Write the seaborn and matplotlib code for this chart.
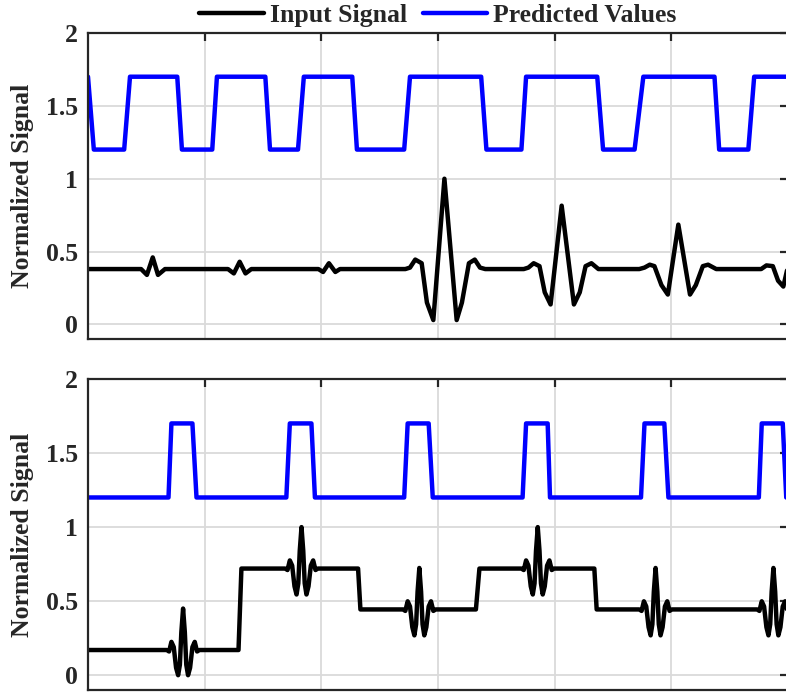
import numpy as np
import pandas as pd
import matplotlib
matplotlib.use("Agg")
import matplotlib.pyplot as plt
import seaborn as sns

# ---------------- data ----------------
# top panel
top_pred_x = [0, 1.0, 6.2, 7.2, 15.3, 16.1, 21.3, 22.1, 30.4, 31.2, 36.0, 37.0, 45.3, 46.1,
              54.2, 55.2, 67.4, 68.3, 74.3, 75.1, 87.3, 88.3, 93.7, 95.2, 107.4, 108.2,
              113.2, 114.2, 120.0]
top_pred_y = [1.7, 1.2, 1.2, 1.7, 1.7, 1.2, 1.2, 1.7, 1.7, 1.2, 1.2, 1.7, 1.7, 1.2,
              1.2, 1.7, 1.7, 1.2, 1.2, 1.7, 1.7, 1.2, 1.2, 1.7, 1.7, 1.2,
              1.2, 1.7, 1.7]

top_sig_x = [0, 9.1, 10.1, 11.1, 12.0, 13.2,
             24.0, 25.0, 26.0, 27.0, 28.0,
             39.5, 40.3, 41.3, 42.4, 43.2,
             54.4, 55.2, 56.1, 57.2, 58.1, 59.2, 61.1, 63.2, 64.1, 65.3, 66.3, 67.2, 68.1,
             74.7, 75.5, 76.4, 77.4, 78.3, 79.3, 81.2, 83.3, 84.3, 85.3, 86.3, 87.5,
             94.5, 95.4, 96.3, 97.1, 98.3, 99.4, 101.2, 103.2, 104.2, 105.4, 106.3, 107.7,
             115.4, 116.3, 117.4, 118.3, 119.2, 120.0]
top_sig_y = [0.38, 0.38, 0.34, 0.46, 0.34, 0.38,
             0.38, 0.35, 0.43, 0.35, 0.38,
             0.38, 0.36, 0.42, 0.36, 0.38,
             0.38, 0.39, 0.445, 0.42, 0.15, 0.03, 1.0, 0.03, 0.15, 0.42, 0.445, 0.39, 0.38,
             0.38, 0.39, 0.42, 0.40, 0.22, 0.137, 0.815, 0.137, 0.22, 0.40, 0.42, 0.38,
             0.38, 0.39, 0.41, 0.40, 0.27, 0.205, 0.685, 0.205, 0.27, 0.40, 0.41, 0.38,
             0.38, 0.405, 0.40, 0.30, 0.26, 0.40]

# bottom panel
bot_pred_x = [0, 13.8, 14.3, 17.9, 18.6, 34.0, 34.6, 38.3, 38.9, 54.2, 54.8, 58.4, 59.1,
              74.5, 75.1, 78.8, 79.2, 94.8, 95.4, 98.8, 99.5, 115.0, 115.5, 119.1, 119.7, 120.0]
bot_pred_y = [1.2, 1.2, 1.7, 1.7, 1.2, 1.2, 1.7, 1.7, 1.2, 1.2, 1.7, 1.7, 1.2,
              1.2, 1.7, 1.7, 1.2, 1.2, 1.7, 1.7, 1.2, 1.2, 1.7, 1.7, 1.2, 1.2]

bot_sig_x = [0,
             13.5, 13.9, 14.3, 14.7, 15.1, 15.45, 15.75, 16.0, 16.3, 16.6, 16.85, 17.15, 17.5, 17.9, 18.3, 18.7, 19.1,
             25.8, 26.3,
             33.8, 34.2, 34.6, 35.0, 35.4, 35.75, 36.05, 36.3, 36.6, 36.9, 37.15, 37.45, 37.8, 38.2, 38.6, 39.0, 39.4,
             46.3, 46.7,
             54.0, 54.4, 54.8, 55.2, 55.6, 55.95, 56.25, 56.5, 56.8, 57.1, 57.35, 57.65, 58.0, 58.4, 58.8, 59.2, 59.6,
             66.5, 67.1,
             74.3, 74.7, 75.1, 75.5, 75.9, 76.25, 76.55, 76.8, 77.1, 77.4, 77.65, 77.95, 78.3, 78.7, 79.1, 79.5, 79.9,
             86.8, 87.2,
             94.5, 94.9, 95.3, 95.7, 96.1, 96.45, 96.75, 97.0, 97.3, 97.6, 97.85, 98.15, 98.5, 98.9, 99.3, 99.7, 100.1,
             114.7, 115.1, 115.5, 115.9, 116.3, 116.65, 116.95, 117.2, 117.5, 117.8, 118.05, 118.35, 118.7, 119.1, 119.5, 119.9, 120.3]
bot_sig_y = [0.17,
             0.17, 0.16, 0.225, 0.19, 0.05, 0.0, 0.07, 0.29, 0.45, 0.29, 0.07, 0.0, 0.05, 0.19, 0.225, 0.16, 0.17,
             0.17, 0.72,
             0.72, 0.71, 0.775, 0.74, 0.60, 0.545, 0.62, 0.84, 1.0, 0.84, 0.62, 0.545, 0.60, 0.74, 0.775, 0.71, 0.72,
             0.72, 0.444,
             0.444, 0.434, 0.499, 0.464, 0.324, 0.269, 0.344, 0.564, 0.724, 0.564, 0.344, 0.269, 0.324, 0.464, 0.499, 0.434, 0.444,
             0.444, 0.72,
             0.72, 0.71, 0.775, 0.74, 0.60, 0.545, 0.62, 0.84, 1.0, 0.84, 0.62, 0.545, 0.60, 0.74, 0.775, 0.71, 0.72,
             0.72, 0.444,
             0.444, 0.434, 0.499, 0.464, 0.324, 0.269, 0.344, 0.564, 0.724, 0.564, 0.344, 0.269, 0.324, 0.464, 0.499, 0.434, 0.444,
             0.444, 0.434, 0.499, 0.464, 0.324, 0.269, 0.344, 0.564, 0.724, 0.564, 0.344, 0.269, 0.324, 0.464, 0.499, 0.434, 0.444]

y_ticks = [0, 0.5, 1, 1.5, 2]
y_tick_labels = ["0", "0.5", "1", "1.5", "2"]
x_ticks = [20, 40, 60, 80, 100]
legend_labels = ["Input Signal", "Predicted Values"]

# ---------------- style ----------------
sns.set_theme(style="white")
plt.rcParams["font.family"] = ["Liberation Serif", "DejaVu Serif"]
plt.rcParams["font.weight"] = "bold"

W, H = 786, 692
fig = plt.figure(figsize=(W / 100, H / 100), dpi=100)
fig.patch.set_facecolor("white")


def rect(l, t, r, b):
    return [l / W, 1 - b / H, (r - l) / W, (b - t) / H]


ax1 = fig.add_axes(rect(88, 33, 788, 339))
ax2 = fig.add_axes(rect(88, 379, 788, 690))

FS = 18.5
DARK = "#262626"
LW = 3.2

panels = [
    (ax1, top_sig_x, top_sig_y, top_pred_x, top_pred_y),
    (ax2, bot_sig_x, bot_sig_y, bot_pred_x, bot_pred_y),
]

for ax, sx, sy, px, py in panels:
    df_s = pd.DataFrame({"x": sx, "y": sy})
    df_p = pd.DataFrame({"x": px, "y": py})
    sns.lineplot(data=df_s, x="x", y="y", ax=ax, color="black", lw=LW,
                 estimator=None, sort=False, label=legend_labels[0], legend=False)
    sns.lineplot(data=df_p, x="x", y="y", ax=ax, color=(0, 0, 1), lw=LW,
                 estimator=None, sort=False, label=legend_labels[1], legend=False)
    ax.set_xlim(0, 120)
    ax.set_ylim(-0.1, 2)
    ax.set_xticks(x_ticks)
    ax.set_yticks(y_ticks)
    ax.set_yticklabels(y_tick_labels)
    ax.set_xlabel("")
    ax.set_ylabel("Normalized Signal", fontsize=FS, fontweight="bold", color=DARK)
    ax.yaxis.set_label_coords(-65 / 700, 0.5)
    ax.yaxis.label.set_verticalalignment("center")
    ax.grid(True, color="#dadada", lw=1.3)
    ax.set_axisbelow(True)
    ax.tick_params(axis="both", direction="in", length=6, width=1.6, color=DARK,
                   top=True, right=True, labelbottom=False, labelsize=FS,
                   labelcolor=DARK, pad=7)
    for lab in ax.get_yticklabels():
        lab.set_fontweight("bold")
    for sp in ax.spines.values():
        sp.set_visible(True)
        sp.set_color(DARK)
        sp.set_linewidth(1.6)

handles, labels = ax1.get_legend_handles_labels()
leg = ax1.legend(handles, labels, loc="center", bbox_to_anchor=(0.5, 1.056), ncol=2,
                 frameon=False, handlelength=2.5, handletextpad=0.25, columnspacing=0.6,
                 borderpad=0, prop={"weight": "bold", "size": FS})

fig.savefig("out.png", dpi=100, facecolor="white")
